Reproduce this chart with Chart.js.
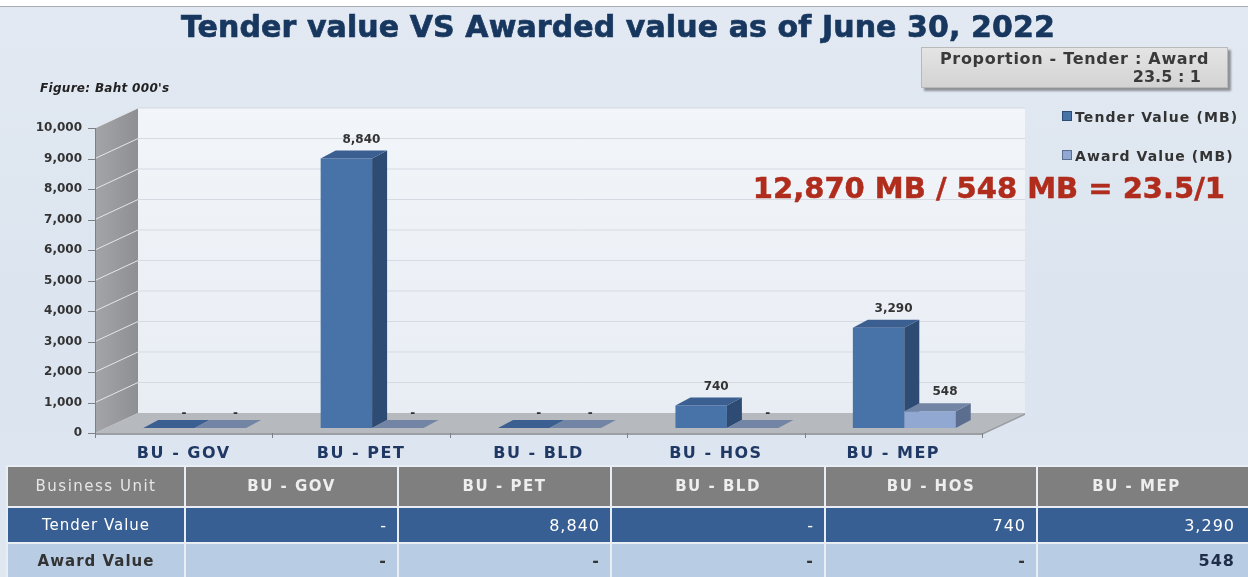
<!DOCTYPE html>
<html>
<head>
<meta charset="utf-8">
<script src="https://cdn.jsdelivr.net/npm/chart.js@4.4.0/dist/chart.umd.min.js"></script>
<style>
    html, body { margin: 0; padding: 0; }
    body {
        width: 1248px; height: 577px; position: relative; overflow: hidden;
        background: #ffffff; font-family: 'DejaVu Sans', sans-serif;
    }
    .panel {
        position: absolute; left: 0; top: 6px; width: 1248px; height: 571px;
        border-top: 1px solid #a7acb3;
        background: linear-gradient(180deg, #e2e9f2 0%, #dbe4ef 60%, #dfe7f1 100%);
    }
    #chart { position: absolute; left: 0; top: 0; }
    .title {
        position: absolute; left: 0; top: 9px; width: 1236px; text-align: center;
        font-weight: bold; font-size: 30px; line-height: 36px; color: #17375f;
        -webkit-text-stroke: 0.7px #17375f; white-space: nowrap; letter-spacing: 0.1px;
    }
    .figure-note {
        position: absolute; left: 40px; top: 81px; letter-spacing: 0.3px;
        font-size: 12px; font-weight: bold; font-style: italic; color: #222;
    }
    .proportion {
        position: absolute; left: 921px; top: 47px; width: 305px; height: 39px;
        background: linear-gradient(180deg, #e4e4e4, #d3d3d3);
        border: 1px solid #b9b9b9; box-shadow: 3px 3px 2px #8f9296;
        font-size: 16px; font-weight: bold; color: #3a3a3a; line-height: 18px;
        letter-spacing: 0.7px; white-space: nowrap;
    }
    .proportion .l1 { text-align: center; padding-top: 2px; }
    .proportion .l2 { position: absolute; right: 26px; top: 20px; letter-spacing: 0; }
    .ratio {
        position: absolute; right: 23px; top: 171px;
        font-size: 29px; font-weight: bold; color: #b02c1c; white-space: nowrap;
        -webkit-text-stroke: 0.5px #b02c1c;
    }
    .legend {
        position: absolute; left: 1062px; top: 109px; font-size: 14px; font-weight: bold;
        color: #333; letter-spacing: 1.1px;
    }
    .legend div { height: 39px; white-space: nowrap; }
    .legend .sw { display: inline-block; width: 8px; height: 8px; margin-right: 3px; vertical-align: 1px; }
    table {
        position: absolute; left: 6px; top: 465px; width: 1242px; height: 114px;
        border-collapse: collapse; table-layout: fixed;
    }
    td { border: 2px solid #e9eef5; font-size: 16px; padding: 0 10px 0 0; white-space: nowrap; letter-spacing: 1px; }
    tr.head td {
        background: #7f7f7f; color: #eeeeee; font-weight: bold; text-align: center; height: 38px;
        font-size: 15px; letter-spacing: 1.5px; padding: 0;
    }
    tr.head td:first-child { font-weight: normal; color: #e6e6e6; }
    tr.tender td { background: #385f94; color: #ffffff; text-align: right; height: 34px; }
    tr.award td { background: #b8cce4; color: #333333; text-align: right; font-weight: bold; height: 32px; }
    tr.award td.num { color: #1e2d48; }
    td.rowhead { text-align: center !important; font-size: 15px; padding: 0 !important; }
    tr.tender td.rowhead { font-weight: normal; }
    tr td:last-child { padding-right: 13px; }
</style>
</head>
<body>
<div class="panel"></div>
<canvas id="chart" width="1248" height="466"></canvas>
<div class="title">Tender value VS Awarded value as of June 30, 2022</div>
<div class="figure-note">Figure: Baht 000's</div>
<div class="proportion"><div class="l1">Proportion - Tender : Award</div><div class="l2">23.5 : 1</div></div>
<div class="ratio">12,870 MB / 548 MB = 23.5/1</div>
<div class="legend" id="legend"></div>
<table id="table"></table>
<script>
const categories = ['BU - GOV', 'BU - PET', 'BU - BLD', 'BU - HOS', 'BU - MEP']
const tenderValues = [0, 8840, 0, 740, 3290]
const awardValues = [0, 0, 0, 0, 548]
const seriesNames = ['Tender Value (MB)', 'Award Value (MB)']
const tableRowNames = ['Tender Value', 'Award Value']
const yMax = 10000
const yStep = 1000

// fake 3D: depth of the floor, where the bars sit on it, and bar thickness
const DEPTH_X = 43, DEPTH_Y = -20
const SHIFT_X = 11, SHIFT_Y = -5
const BAR_DX = 15, BAR_DY = -8

const fmt = (v) => v === 0 ? '-' : v.toLocaleString('en-US')

function poly(ctx, pts, fill) {
    ctx.beginPath()
    ctx.moveTo(pts[0][0], pts[0][1])
    pts.slice(1).forEach(p => ctx.lineTo(p[0], p[1]))
    ctx.closePath()
    ctx.fillStyle = fill
    ctx.fill()
}

const box3d = {
    id: 'box3d',
    beforeDraw(chart) {
        chart.ctx.letterSpacing = '0px'
    },
    beforeDatasetsDraw(chart) {
        const { ctx, chartArea: a, scales: { y } } = chart
        const bx = a.left + DEPTH_X, by = DEPTH_Y

        // back wall
        const wall = ctx.createLinearGradient(0, a.top + by, 0, a.bottom + by)
        wall.addColorStop(0, '#f2f5f9')
        wall.addColorStop(1, '#e8edf4')
        ctx.fillStyle = wall
        ctx.fillRect(bx, a.top + by, a.right - a.left, a.bottom - a.top)

        // left wall
        const side = ctx.createLinearGradient(a.left, 0, bx, 0)
        side.addColorStop(0, '#a3a5a9')
        side.addColorStop(1, '#8d8f93')
        poly(ctx, [[a.left, a.top], [bx, a.top + by], [bx, a.bottom + by], [a.left, a.bottom]], side)

        // grid lines
        ctx.lineWidth = 1
        for (let v = yStep; v <= yMax; v += yStep) {
            const yy = y.getPixelForValue(v)
            ctx.beginPath()
            ctx.moveTo(a.left, yy)
            ctx.lineTo(bx, yy + by)
            ctx.strokeStyle = '#e4e6ea'
            ctx.stroke()
            ctx.beginPath()
            ctx.moveTo(bx, yy + by)
            ctx.lineTo(a.right + DEPTH_X, yy + by)
            ctx.strokeStyle = '#d6dbe3'
            ctx.stroke()
        }

        // floor
        poly(ctx, [[a.left, a.bottom], [bx, a.bottom + by], [a.right + DEPTH_X, a.bottom + by], [a.right, a.bottom]], '#b6b9be')
        ctx.fillStyle = '#9b9ea3'
        ctx.fillRect(a.left, a.bottom, a.right - a.left, 2)
        poly(ctx, [[a.right, a.bottom], [a.right + DEPTH_X, a.bottom + by], [a.right + DEPTH_X, a.bottom + by + 2], [a.right, a.bottom + 2]], '#9b9ea3')

        // tick marks
        ctx.strokeStyle = '#7d8085'
        ctx.beginPath()
        ctx.moveTo(a.left + 0.5, a.top)
        ctx.lineTo(a.left + 0.5, a.bottom)
        for (let v = 0; v <= yMax; v += yStep) {
            const yy = Math.round(y.getPixelForValue(v)) + 0.5
            ctx.moveTo(a.left - 7, yy)
            ctx.lineTo(a.left, yy)
        }
        const step = (a.right - a.left) / categories.length
        for (let i = 0; i <= categories.length; i++) {
            const xx = Math.round(a.left + i * step) + 0.5
            ctx.moveTo(xx, a.bottom)
            ctx.lineTo(xx, a.bottom + 5)
        }
        ctx.stroke()
    },
    // bars are drawn below, in dataset order, so the front award bar hides the tender side face
    beforeDatasetDraw() {
        return false
    },
    afterDatasetsDraw(chart) {
        const ctx = chart.ctx
        ctx.save()
        ctx.translate(SHIFT_X, SHIFT_Y)
        chart.data.datasets.forEach((ds, i) => {
            chart.getDatasetMeta(i).data.forEach(bar => {
                const { x, y, base, width } = bar.getProps(['x', 'y', 'base', 'width'], true)
                const l = x - width / 2, r = x + width / 2
                bar.draw(ctx)
                poly(ctx, [[r, y], [r + BAR_DX, y + BAR_DY], [r + BAR_DX, base + BAR_DY], [r, base]], ds.sideColor)
                poly(ctx, [[l, y], [l + BAR_DX, y + BAR_DY], [r + BAR_DX, y + BAR_DY], [r, y]], ds.topColor)
            })
        })
        ctx.restore()

        // value labels
        ctx.save()
        ctx.font = 'bold 12px "DejaVu Sans"'
        ctx.fillStyle = '#333333'
        ctx.textAlign = 'center'
        ctx.textBaseline = 'middle'
        chart.data.datasets.forEach((ds, i) => {
            chart.getDatasetMeta(i).data.forEach((bar, j) => {
                const v = ds.data[j]
                const dy = v === 0 ? -14 : -19
                ctx.fillText(fmt(v), bar.x + SHIFT_X + 15, bar.y + SHIFT_Y + dy)
            })
        })
        ctx.restore()
        // x labels are drawn after this (ticks.z = 1), a bit spaced out
        ctx.letterSpacing = '1.5px'
    },
    afterDraw(chart) {
        chart.ctx.letterSpacing = '0px'
    }
}

const data = {
    labels: categories,
    datasets: [
        {
            label: seriesNames[0],
            data: tenderValues,
            backgroundColor: '#4773a8',
            sideColor: '#2e4b73',
            topColor: '#3b5f90',
        },
        {
            label: seriesNames[1],
            data: awardValues,
            backgroundColor: '#91a8d2',
            sideColor: '#5c6e8f',
            topColor: '#7385a5',
        }
    ]
}

const config = {
    type: 'bar',
    data: data,
    options: {
        responsive: false,
        devicePixelRatio: 1,
        animation: false,
        layout: { padding: { top: 128, right: 266, left: 0, bottom: 0 } },
        datasets: {
            bar: { barPercentage: 1, categoryPercentage: 0.58, borderWidth: 0 }
        },
        plugins: {
            legend: { display: false },
            title: { display: false },
            tooltip: { enabled: false }
        },
        scales: {
            x: {
                grid: { display: false, drawTicks: false },
                border: { display: false },
                ticks: {
                    z: 1,
                    color: '#1f3864',
                    padding: 11,
                    font: { family: 'DejaVu Sans', weight: 'bold', size: 16 }
                },
                afterFit: (scale) => { scale.height = 33 }
            },
            y: {
                min: 0,
                max: yMax,
                grid: { display: false, drawTicks: false },
                border: { display: false },
                ticks: {
                    stepSize: yStep,
                    padding: 13,
                    color: '#333333',
                    font: { family: 'DejaVu Sans', weight: 'bold', size: 12 },
                    callback: (v) => v.toLocaleString('en-US')
                },
                afterFit: (scale) => { scale.width = 95 }
            }
        }
    },
    plugins: [box3d]
}

const ctx = document.getElementById('chart').getContext('2d')
const chart = new Chart(ctx, config)

// legend
const legend = document.getElementById('legend')
data.datasets.forEach(ds => {
    const row = document.createElement('div')
    const sw = document.createElement('span')
    sw.className = 'sw'
    sw.style.background = ds.backgroundColor
    sw.style.border = '1px solid ' + ds.sideColor
    row.appendChild(sw)
    row.appendChild(document.createTextNode(ds.label))
    legend.appendChild(row)
})

// data table under the chart
const table = document.getElementById('table')
const colWidths = [178, 213, 213, 214, 212, 212]
const colgroup = document.createElement('colgroup')
colWidths.forEach(w => {
    const col = document.createElement('col')
    col.style.width = w + 'px'
    colgroup.appendChild(col)
})
table.appendChild(colgroup)
const head = table.insertRow()
head.className = 'head'
head.insertCell().textContent = 'Business Unit'
categories.forEach(c => { head.insertCell().textContent = c })
;[tenderValues, awardValues].forEach((vals, i) => {
    const row = table.insertRow()
    row.className = i === 0 ? 'tender' : 'award'
    const h = row.insertCell()
    h.className = 'rowhead'
    h.textContent = tableRowNames[i]
    vals.forEach(v => {
        const c = row.insertCell()
        c.textContent = fmt(v)
        if (v !== 0) c.className = 'num'
    })
})
</script>
</body>
</html>
